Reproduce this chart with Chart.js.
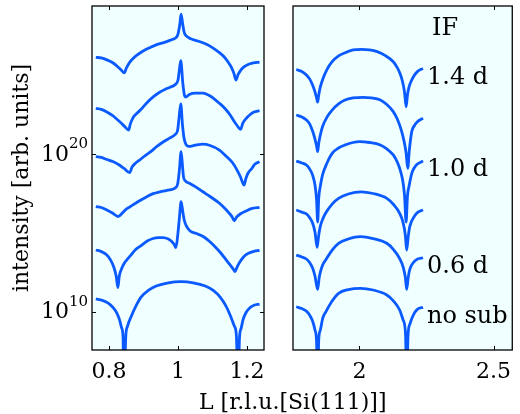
<!DOCTYPE html>
<html>
<head>
<meta charset="utf-8">
<script src="https://cdn.jsdelivr.net/npm/chart.js@4.4.0/dist/chart.umd.min.js"></script>
<style>
  body { margin: 0; background: #fff; }
  #wrap { position: relative; width: 520px; height: 414px; overflow: hidden; }
  #wrap canvas { position: absolute; left: 0; top: 0; }
  #xlabel {
    position: absolute; left: 199px; top: 389px;
    font: 22px "DejaVu Serif"; line-height: 26px;
    white-space: nowrap; color: #000;
  }
</style>
</head>
<body>
<div id="wrap">
  <canvas id="leftChart" width="520" height="414"></canvas>
  <canvas id="rightChart" width="520" height="414"></canvas>
  <div id="xlabel">L [r.l.u.[Si(111)]]</div>
</div>
<script>
// Data: [L, log10(intensity)], curves offset per interface thickness
const seriesNames = ["no sub", "0.6 d", "0.8 d", "1.0 d", "1.2 d", "1.4 d"];
const shownNames = ["1.4 d", "1.0 d", "0.6 d", "no sub"];
const headerText = "IF";

const leftXTicks = [0.8, 1, 1.2];
const leftXLabels = ["0.8", "1", "1.2"];
const rightXTicks = [2, 2.5];
const rightXLabels = ["2", "2.5"];
const yTickExps = [10, 20];

// left panel, around L = 1
const leftNoSub = [[0.762,10.81],[0.781,10.72],[0.798,10.55],[0.812,10.27],[0.823,9.92],[0.831,9.47],[0.837,8.96],[0.841,8.33],[0.843,5],[0.849,8.52],[0.854,9.09],[0.865,9.73],[0.878,10.36],[0.893,10.93],[0.914,11.35],[0.937,11.63],[0.972,11.84],[1.009,11.91],[1.044,11.84],[1.079,11.63],[1.102,11.35],[1.122,10.93],[1.139,10.36],[1.152,9.73],[1.163,9.09],[1.169,8.52],[1.174,5],[1.178,8.33],[1.183,8.96],[1.188,9.47],[1.197,9.95],[1.209,10.27],[1.220,10.41],[1.236,10.48]];
const left06 = [[0.762,13.92],[0.778,13.82],[0.794,13.60],[0.805,13.28],[0.814,12.84],[0.821,12.27],[0.826,11.54],[0.830,12.27],[0.837,12.74],[0.844,13.06],[0.853,13.32],[0.865,13.63],[0.876,13.92],[0.891,14.17],[0.911,14.49],[0.928,14.65],[0.943,14.71],[0.957,14.71],[0.972,14.62],[0.982,14.46],[0.989,14.27],[0.994,14.08],[0.999,14.81],[1.004,15.95],[1.009,16.99],[1.014,16.33],[1.018,15.83],[1.024,15.45],[1.035,15.13],[1.053,14.97],[1.073,14.78],[1.090,14.49],[1.108,14.11],[1.125,13.70],[1.141,13.25],[1.152,12.94],[1.160,12.71],[1.165,12.55],[1.171,12.84],[1.180,13.19],[1.191,13.51],[1.206,13.73],[1.220,13.84],[1.236,13.89]];
const left08 = [[0.762,16.68],[0.778,16.62],[0.794,16.46],[0.810,16.27],[0.827,16.05],[0.839,16.27],[0.850,16.52],[0.862,16.68],[0.885,17.00],[0.910,17.31],[0.928,17.50],[0.948,17.62],[0.966,17.70],[0.980,17.76],[0.992,17.86],[0.999,18.11],[1.004,19.00],[1.009,20.17],[1.013,19.26],[1.016,18.56],[1.022,18.30],[1.033,18.16],[1.050,17.95],[1.072,17.62],[1.093,17.32],[1.120,16.89],[1.136,16.56],[1.148,16.27],[1.157,16.02],[1.163,15.78],[1.170,16.02],[1.180,16.21],[1.197,16.40],[1.215,16.56],[1.236,16.63]];
const left10 = [[0.762,19.85],[0.778,19.80],[0.794,19.67],[0.813,19.53],[0.830,19.32],[0.844,19.10],[0.860,18.84],[0.867,19.19],[0.876,19.42],[0.891,19.67],[0.905,19.92],[0.920,20.15],[0.939,20.50],[0.957,20.78],[0.977,21.04],[0.992,21.26],[0.999,21.54],[1.003,22.31],[1.008,23.20],[1.013,21.86],[1.018,20.97],[1.024,20.59],[1.032,20.50],[1.047,20.56],[1.072,20.65],[1.093,20.56],[1.120,20.27],[1.139,19.89],[1.159,19.43],[1.171,19.00],[1.181,18.56],[1.191,18.05],[1.197,18.49],[1.203,18.81],[1.214,19.11],[1.223,19.38],[1.236,19.53]];
const left12 = [[0.762,22.92],[0.778,22.85],[0.794,22.69],[0.810,22.47],[0.824,22.21],[0.837,21.96],[0.847,21.73],[0.857,21.54],[0.862,21.93],[0.866,22.15],[0.871,22.37],[0.879,22.56],[0.891,22.81],[0.908,23.23],[0.929,23.66],[0.948,23.96],[0.963,24.13],[0.977,24.26],[0.992,24.43],[1.000,24.72],[1.004,25.36],[1.008,25.95],[1.014,24.51],[1.019,23.72],[1.022,23.64],[1.033,23.80],[1.050,23.88],[1.072,23.88],[1.093,23.70],[1.122,23.20],[1.136,22.91],[1.151,22.50],[1.160,22.18],[1.170,21.86],[1.181,21.58],[1.188,21.99],[1.197,22.27],[1.209,22.53],[1.220,22.69],[1.236,22.77]];
const left14 = [[0.762,26.16],[0.778,26.12],[0.794,26.00],[0.810,25.83],[0.823,25.61],[0.834,25.39],[0.845,25.17],[0.850,25.45],[0.857,25.74],[0.867,26.02],[0.882,26.31],[0.899,26.56],[0.920,26.79],[0.940,26.98],[0.963,27.13],[0.983,27.29],[0.995,27.42],[1.000,27.64],[1.005,28.21],[1.009,28.91],[1.014,28.21],[1.018,27.74],[1.024,27.52],[1.035,27.36],[1.064,27.15],[1.084,26.98],[1.103,26.73],[1.119,26.47],[1.134,26.18],[1.145,25.86],[1.155,25.51],[1.162,25.13],[1.168,24.72],[1.174,25.07],[1.181,25.32],[1.191,25.55],[1.203,25.71],[1.218,25.80],[1.236,25.86]];

// right panel, around L = 2
const rightNoSub = [[1.764,10.32],[1.785,10.20],[1.802,10.04],[1.814,9.79],[1.825,9.41],[1.834,8.84],[1.840,8.08],[1.844,5],[1.848,8.21],[1.854,8.84],[1.863,9.60],[1.874,9.98],[1.898,10.68],[1.922,11.17],[1.958,11.41],[2.004,11.49],[2.051,11.38],[2.102,11.06],[2.127,10.68],[2.150,10.11],[2.163,9.47],[2.172,8.52],[2.176,5],[2.181,8.46],[2.188,9.22],[2.204,9.90],[2.217,10.17],[2.237,10.28]];
const right06 = [[1.764,13.60],[1.785,13.48],[1.802,13.35],[1.814,13.13],[1.825,12.78],[1.834,12.27],[1.844,11.42],[1.850,12.20],[1.856,12.65],[1.865,13.06],[1.874,13.29],[1.898,13.92],[1.922,14.35],[1.958,14.62],[2.004,14.77],[2.051,14.65],[2.102,14.35],[2.127,13.95],[2.150,13.38],[2.163,12.84],[2.171,12.20],[2.176,11.42],[2.182,12.20],[2.188,12.71],[2.204,13.18],[2.217,13.35],[2.237,13.43]];
const right08 = [[1.764,16.46],[1.785,16.33],[1.802,16.21],[1.814,15.98],[1.825,15.64],[1.834,15.06],[1.842,14.09],[1.848,14.87],[1.854,15.44],[1.863,15.89],[1.874,16.27],[1.898,16.84],[1.922,17.20],[1.958,17.48],[2.006,17.62],[2.051,17.51],[2.102,17.20],[2.127,16.81],[2.150,16.25],[2.163,15.64],[2.171,14.87],[2.176,13.92],[2.182,14.80],[2.188,15.44],[2.204,16.04],[2.217,16.31],[2.237,16.46]];
const right10 = [[1.764,19.57],[1.785,19.45],[1.802,19.32],[1.814,19.07],[1.825,18.68],[1.834,18.05],[1.840,17.10],[1.844,15.70],[1.848,17.22],[1.854,17.98],[1.862,18.68],[1.879,19.45],[1.898,20.06],[1.922,20.40],[1.946,20.59],[1.976,20.75],[2.000,20.80],[2.037,20.75],[2.078,20.59],[2.102,20.34],[2.126,19.96],[2.141,19.51],[2.152,19.00],[2.161,18.37],[2.168,17.41],[2.174,15.70],[2.179,17.35],[2.185,17.98],[2.195,18.79],[2.204,19.13],[2.216,19.38],[2.237,19.57]];
const right12 = [[1.764,22.50],[1.785,22.37],[1.802,22.18],[1.814,21.93],[1.825,21.48],[1.834,20.97],[1.840,20.53],[1.844,20.17],[1.848,20.72],[1.854,21.23],[1.862,21.75],[1.879,22.37],[1.898,22.81],[1.922,23.20],[1.946,23.45],[1.976,23.58],[2.012,23.62],[2.044,23.58],[2.078,23.45],[2.102,23.16],[2.126,22.71],[2.141,22.24],[2.156,21.54],[2.167,20.78],[2.174,20.08],[2.180,19.11],[2.186,20.27],[2.195,21.44],[2.204,21.80],[2.216,22.07],[2.237,22.29]];
const right14 = [[1.764,25.39],[1.785,25.26],[1.802,25.04],[1.814,24.79],[1.825,24.40],[1.834,23.96],[1.840,23.58],[1.844,23.32],[1.848,23.77],[1.854,24.28],[1.862,24.72],[1.879,25.39],[1.898,25.88],[1.922,26.25],[1.946,26.45],[1.976,26.63],[2.008,26.67],[2.037,26.63],[2.066,26.52],[2.095,26.28],[2.126,25.88],[2.141,25.51],[2.152,25.10],[2.161,24.59],[2.168,23.96],[2.174,23.02],[2.179,23.77],[2.185,24.28],[2.192,24.61],[2.203,24.97],[2.216,25.25],[2.237,25.46]];

const leftSeries = [leftNoSub, left06, left08, left10, left12, left14];
const rightSeries = [rightNoSub, right06, right08, right10, right12, right14];

const LINE_COLOR = "#0a5aff";
const FONT = "DejaVu Serif";

function toPoints(pairs) {
  return pairs.map(([L, e]) => ({ x: L, y: Math.pow(10, e) }));
}

// background, box, inward ticks and superscript y labels
const panelFrame = {
  id: "panelFrame",
  beforeDatasetsDraw(chart) {
    const a = chart.chartArea;
    const ctx = chart.ctx;
    ctx.save();
    ctx.fillStyle = "#f0ffff";
    ctx.fillRect(a.left, a.top, a.right - a.left, a.bottom - a.top);
    ctx.restore();
  },
  afterDraw(chart, args, opts) {
    const a = chart.chartArea;
    const ctx = chart.ctx;
    ctx.save();
    ctx.strokeStyle = "#000";
    ctx.lineWidth = 1.3;
    ctx.strokeRect(a.left, a.top, a.right - a.left, a.bottom - a.top);

    ctx.lineWidth = 1;
    ctx.beginPath();
    const xs = chart.scales.x;
    xs.ticks.forEach((t) => {
      const px = Math.round(xs.getPixelForValue(t.value)) + 0.5;
      ctx.moveTo(px, a.top); ctx.lineTo(px, a.top + 4);
      ctx.moveTo(px, a.bottom); ctx.lineTo(px, a.bottom - 4);
    });
    if (opts.yLabels) {
      const ys = chart.scales.y;
      ys.ticks.forEach((t) => {
        const py = Math.round(ys.getPixelForValue(t.value)) + 0.5;
        ctx.moveTo(a.left, py); ctx.lineTo(a.left + 4, py);
        ctx.moveTo(a.right, py); ctx.lineTo(a.right - 4, py);
      });
    }
    ctx.stroke();

    if (opts.yLabels) {
      const ys = chart.scales.y;
      ctx.fillStyle = "#000";
      ctx.textBaseline = "middle";
      ctx.textAlign = "right";
      ys.ticks.forEach((t) => {
        const py = ys.getPixelForValue(t.value);
        const exp = String(Math.round(Math.log10(t.value)));
        const right = a.left - 4;
        ctx.font = "15px '" + FONT + "'";
        const ew = ctx.measureText(exp).width;
        ctx.fillText(exp, right, py - 10);
        ctx.font = "22px '" + FONT + "'";
        ctx.fillText("10", right - ew, py + 1);
      });
    }
    ctx.restore();
  },
};

// IF header and thickness labels next to the curve ends
const curveLabels = {
  id: "curveLabels",
  afterDraw(chart) {
    const ctx = chart.ctx;
    ctx.save();
    ctx.fillStyle = "#000";
    ctx.font = "24px '" + FONT + "'";
    ctx.textAlign = "left";
    ctx.textBaseline = "middle";
    let topX = null;
    shownNames.forEach((name) => {
      const meta = chart.getDatasetMeta(seriesNames.indexOf(name));
      const last = meta.data[meta.data.length - 1];
      ctx.fillText(name, last.x + 4, last.y + 9);
      if (topX === null) topX = last.x + 4;
    });
    ctx.fillText(headerText, topX + 5, chart.chartArea.top + 23);
    ctx.restore();
  },
};

function makePanel(canvasId, series, xMin, xMax, xTicks, xLabels, isLeft) {
  return new Chart(document.getElementById(canvasId), {
    type: "line",
    data: {
      datasets: series.map((pairs, i) => ({
        label: seriesNames[i],
        data: toPoints(pairs),
        borderColor: LINE_COLOR,
        borderWidth: 2.8,
        pointRadius: 0,
        fill: false,
        tension: 0.4,
        cubicInterpolationMode: "monotone",
      })),
    },
    options: {
      responsive: false,
      animation: false,
      devicePixelRatio: 1,
      layout: {
        padding: isLeft
          ? { left: 0, top: 6, right: 256, bottom: 0 }
          : { left: 293, top: 6, right: 0, bottom: 0 },
      },
      plugins: {
        legend: { display: false },
        tooltip: { enabled: false },
        panelFrame: { yLabels: isLeft },
      },
      scales: {
        x: {
          type: "linear",
          min: xMin,
          max: xMax,
          grid: { display: false, drawTicks: false },
          border: { display: false },
          afterBuildTicks: (s) => { s.ticks = xTicks.map((v) => ({ value: v })); },
          afterFit: (s) => { s.height = 64; },
          ticks: {
            color: "#000",
            font: { family: FONT, size: 22 },
            padding: 9,
            maxRotation: 0,
            autoSkip: false,
            callback: (v, i) => xLabels[i],
          },
        },
        y: {
          type: "logarithmic",
          display: isLeft,
          min: Math.pow(10, 7.57),
          max: Math.pow(10, 29.42),
          grid: { display: false, drawTicks: false },
          border: { display: false },
          afterBuildTicks: (s) => { s.ticks = yTickExps.map((e) => ({ value: Math.pow(10, e) })); },
          afterFit: (s) => { s.width = isLeft ? 92 : 0; },
          ticks: { display: false },
          title: {
            display: isLeft,
            text: "intensity [arb. units]",
            color: "#000",
            font: { family: FONT, size: 22 },
            padding: { top: 9, bottom: 0 },
          },
        },
      },
    },
    plugins: isLeft ? [panelFrame] : [panelFrame, curveLabels],
  });
}

makePanel("leftChart", leftSeries, 0.751, 1.249, leftXTicks, leftXLabels, true);
makePanel("rightChart", rightSeries, 1.752, 2.57, rightXTicks, rightXLabels, false);
</script>
</body>
</html>
